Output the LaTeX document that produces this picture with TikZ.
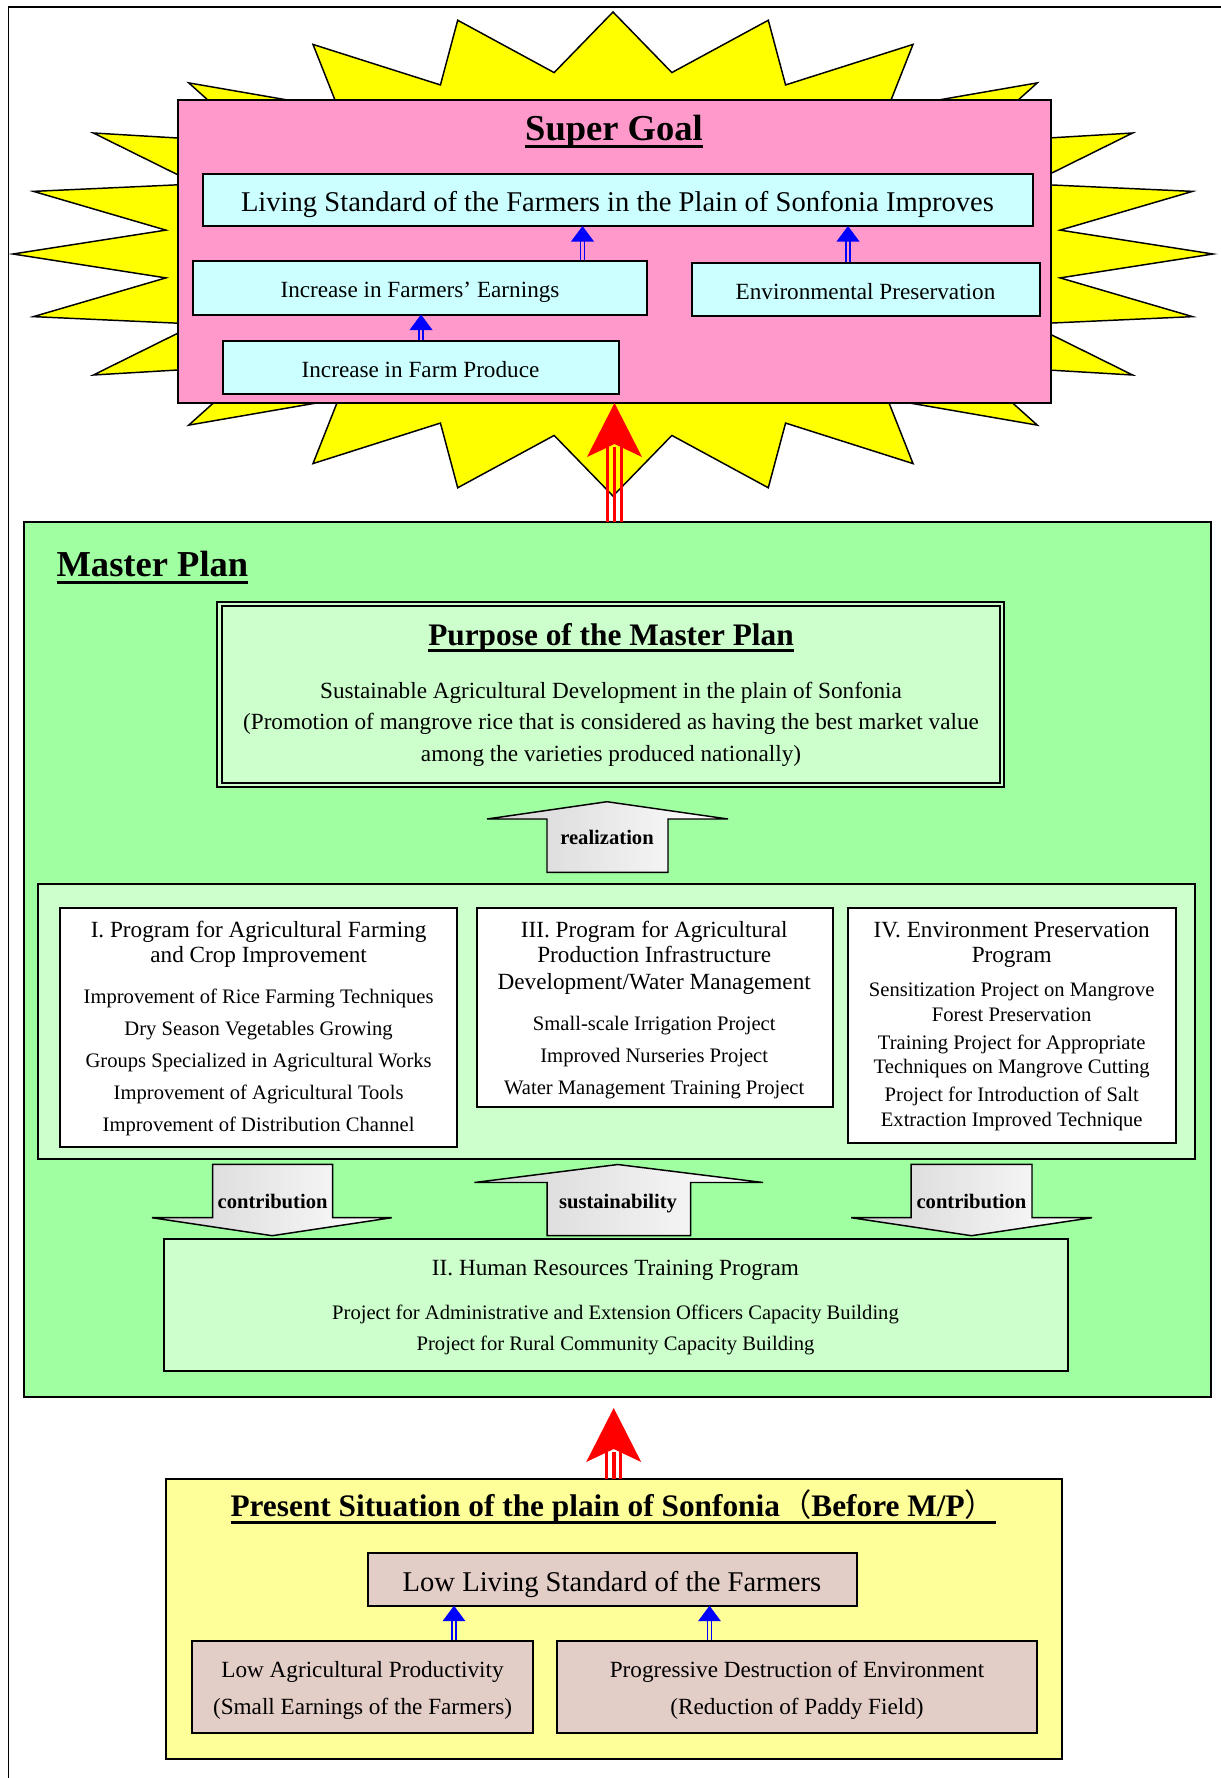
\documentclass[tikz,border=0pt]{standalone}
\usepackage{fontspec}
\setmainfont{Liberation Serif}
\newfontfamily\cjkfont{Noto Sans CJK JP}
\usetikzlibrary{fit,calc}
\definecolor{pinkc}{HTML}{FF99CC}
\definecolor{cyanc}{HTML}{CCFFFF}
\definecolor{starc}{HTML}{FFFF00}
\definecolor{mpgreen}{HTML}{A0FFA0}
\definecolor{palegreen}{HTML}{CCFFCC}
\definecolor{ybox}{HTML}{FFFF99}
\definecolor{rose}{HTML}{E3CDC7}
\definecolor{arrowblue}{HTML}{0000FF}
\definecolor{arrowred}{HTML}{FF0000}
\newcommand{\thickul}[1]{\leavevmode\setbox0\hbox{#1}\rlap{\rule[-5.6pt]{\wd0}{2.4pt}}\box0}
\newcommand{\fnA}{\fontsize{27.4pt}{32pt}\selectfont\bfseries}
\newcommand{\fnB}{\fontsize{23.5pt}{28pt}\selectfont\bfseries}
\newcommand{\fnC}{\fontsize{21.45pt}{26pt}\selectfont}
\newcommand{\fnD}{\fontsize{17.4pt}{21pt}\selectfont}
\newcommand{\fnE}{\fontsize{15.45pt}{19pt}\selectfont}
\newcommand{\dblarrow}[3]{%
  \draw[arrowblue, line width=1.2pt, double=#3, double distance=1.8pt] ($(#1)+(0,-1)$) -- ($(#2)+(0,13)$);
  \fill[arrowblue] (#2) -- ++(-11.5,15.5) -- ++(23,0) -- cycle;}
\newcommand{\redarrow}[2]{%
  \foreach \dx/\w in {-7/2.2,0/2.8,7/2.2} {\draw[arrowred, line width=\w pt] ($(#1)+(\dx,0)$) -- ($(#2)+(\dx,44)$);}
  \fill[arrowred] (#2) -- ++(-27.5,54) -- ++(27.5,-13) -- ++(27.5,13) -- cycle;}
\tikzset{
  every node/.style={inner sep=0pt, outer sep=0pt},
  bx/.style={draw=black, line width=1.5pt},
  ln/.style={anchor=base},
  blk/.style={draw=black, line width=1.1pt, left color=black!17, right color=white},
  starshape/.style={fill=starc, draw=black, line width=1.1pt, line join=miter},
}
\begin{document}
\begin{tikzpicture}[x=0.75pt, y=-0.75pt]
\useasboundingbox (0,0) rectangle (1221,1778);
\fill[white] (0,0) rectangle (1221,1778);
\draw[line width=1.3pt] (8.5,1778) -- (8.5,7) -- (1221,7);

% ---------- Super goal ----------
\draw[starshape] ({613+600*cos(90)}, {254-242*sin(90)})
  \foreach \k in {0,...,23} {
    -- ({613+451*cos(82.5-15*\k)}, {254-183*sin(82.5-15*\k)})
    -- ({613+600*cos(75-15*\k)}, {254-242*sin(75-15*\k)})
  } -- cycle;
\node[bx, fill=pinkc, fit={(178,100) (1051,403)}] (sg) {};
\node[ln, font=\fnA] (sgt) at (614,140.3) {\thickul{Super Goal}};
\node[bx, fill=cyanc, fit={(202.5,173.5) (1032.5,226)}] (ls) {};
\node[ln, font=\fnC] (lst) at (617.5,211.6) {Living Standard of the Farmers in the Plain of Sonfonia Improves};
\node[bx, fill=cyanc, fit={(193,261) (647,314.5)}] (fe) {};
\node[ln, font=\fnD] (fet) at (420,297.7) {Increase in Farmers’ Earnings};
\node[bx, fill=cyanc, fit={(691.5,262.5) (1039.5,315.5)}] (ep) {};
\node[ln, font=\fnD] (ept) at (865.5,299) {Environmental Preservation};
\node[bx, fill=cyanc, fit={(222.5,341) (618.5,393.5)}] (fp) {};
\node[ln, font=\fnD] (fpt) at (420.5,377.2) {Increase in Farm Produce};
\dblarrow{582.5,0 |- fe.north}{582.5,0 |- ls.south}{pinkc}
\dblarrow{848,0 |- ep.north}{848,0 |- ls.south}{pinkc}
\dblarrow{421,0 |- fp.north}{421,0 |- fe.south}{pinkc}

% ---------- Master plan ----------
\node[bx, fill=mpgreen, fit={(24,521.5) (1211,1397)}] (mp) {};
\redarrow{sg.south |- mp.north}{sg.south}
\node[ln, font=\fnA, anchor=base west] (mpt) at (56.5,576.7) {\thickul{Master Plan}};
\node[draw=black, line width=1.6pt, double=palegreen, double distance=1.6pt, fill=palegreen, fit={(219.5,604) (1001.7,784.7)}] (pp) {};
\node[ln, font=\fnB] (ppt) at (611,645) {\thickul{Purpose of the Master Plan}};
\node[ln, font=\fnD] (pp1) at (611,698) {Sustainable Agricultural Development in the plain of Sonfonia};
\node[ln, font=\fnD] (pp2) at (611,729.8) {(Promotion of mangrove rice that is considered as having the best market value};
\node[ln, font=\fnD] (pp3) at (611,761.6) {among the varieties produced nationally)};

\filldraw[blk] (607,801.7) -- (728,819) -- (668,819) -- (668,872.3) -- (547,872.3) -- (547,819) -- (487,819) -- cycle;
\node[ln, font=\fnE\bfseries] (real) at (607,844) {realization};

\node[bx, fill=palegreen, fit={(37.5,884.3) (1194.5,1159)}] (pc) {};
\node[bx, fill=white, fit={(60,908.3) (457.2,1147.3)}] (p1) {};
\node[bx, fill=white, fit={(476.6,908.3) (833.3,1107.3)}] (p3) {};
\node[bx, fill=white, fit={(848.1,908.3) (1176,1143.3)}] (p4) {};

\node[ln, font=\fnD] (p1a) at (258.6,937) {I. Program for Agricultural Farming};
\node[ln, font=\fnD] (p1b) at (258.6,962.7) {and Crop Improvement};
\node[ln, font=\fnE] (p1c) at (258.6,1003.5) {Improvement of Rice Farming Techniques};
\node[ln, font=\fnE] (p1d) at (258.6,1035.8) {Dry Season Vegetables Growing};
\node[ln, font=\fnE] (p1e) at (258.6,1067.8) {Groups Specialized in Agricultural Works};
\node[ln, font=\fnE] (p1f) at (258.6,1099.1) {Improvement of Agricultural Tools};
\node[ln, font=\fnE] (p1g) at (258.6,1131.1) {Improvement of Distribution Channel};

\node[ln, font=\fnD] (p3a) at (654.2,937) {III. Program for Agricultural};
\node[ln, font=\fnD] (p3b) at (654.2,962.7) {Production Infrastructure};
\node[ln, font=\fnD] (p3c) at (654.2,989.4) {Development/Water Management};
\node[ln, font=\fnE] (p3d) at (654.2,1030.1) {Small-scale Irrigation Project};
\node[ln, font=\fnE] (p3e) at (654.2,1062.5) {Improved Nurseries Project};
\node[ln, font=\fnE] (p3f) at (654.2,1094.5) {Water Management Training Project};

\node[ln, font=\fnD] (p4a) at (1011.7,937) {IV. Environment Preservation};
\node[ln, font=\fnD] (p4b) at (1011.7,962.7) {Program};
\node[ln, font=\fnE] (p4c) at (1011.7,996.8) {Sensitization Project on Mangrove};
\node[ln, font=\fnE] (p4d) at (1011.7,1021.1) {Forest Preservation};
\node[ln, font=\fnE] (p4e) at (1011.7,1049.5) {Training Project for Appropriate};
\node[ln, font=\fnE] (p4f) at (1011.7,1073.5) {Techniques on Mangrove Cutting};
\node[ln, font=\fnE] (p4g) at (1011.7,1101.8) {Project for Introduction of Salt};
\node[ln, font=\fnE] (p4h) at (1011.7,1126.1) {Extraction Improved Technique};

\filldraw[blk] (212.6,1164.3) -- (332.6,1164.3) -- (332.6,1217.7) -- (391.7,1217.7) -- (272.2,1235.7) -- (151.9,1217.7) -- (212.6,1217.7) -- cycle;
\node[ln, font=\fnE\bfseries] (con1) at (272.6,1208) {contribution};
\filldraw[blk] (617.8,1164.5) -- (763,1182.5) -- (690.6,1182.5) -- (690.6,1235.5) -- (547.2,1235.5) -- (547.2,1182.5) -- (474.5,1182.5) -- cycle;
\node[ln, font=\fnE\bfseries] (sus) at (618,1208) {sustainability};
\filldraw[blk] (911.2,1164.3) -- (1032,1164.3) -- (1032,1217.7) -- (1092,1217.7) -- (971.5,1235.7) -- (851.2,1217.7) -- (911.2,1217.7) -- cycle;
\node[ln, font=\fnE\bfseries] (con2) at (971.5,1208) {contribution};

\node[bx, fill=palegreen, fit={(164,1239.3) (1067.5,1371)}] (hr) {};
\node[ln, font=\fnD] (hra) at (615.5,1275.4) {II. Human Resources Training Program};
\node[ln, font=\fnE] (hrb) at (615.5,1319.1) {Project for Administrative and Extension Officers Capacity Building};
\node[ln, font=\fnE] (hrc) at (615.5,1350.8) {Project for Rural Community Capacity Building};

% ---------- Present situation ----------
\node[bx, fill=ybox, fit={(165.9,1479) (1061.5,1759)}] (ps) {};
\coordinate (r2tip) at (ps.north |- 0,1408);
\redarrow{ps.north}{r2tip}
\node[ln, font=\fnB, anchor=base west] (pst) at (230.5,1516.7) {\thickul{Present Situation of the plain of Sonfonia{\cjkfont\mdseries （}Before M/P{\cjkfont\mdseries ）}}};
\node[bx, fill=rose, fit={(367.6,1552.7) (856.7,1605.7)}] (ll) {};
\node[ln, font=\fnC] (llt) at (612,1591.1) {Low Living Standard of the Farmers};
\node[bx, fill=rose, fit={(192.4,1640.7) (532.7,1732.7)}] (la) {};
\node[ln, font=\fnD] (laa) at (362.5,1677.7) {Low Agricultural Productivity};
\node[ln, font=\fnD] (lab) at (362.5,1714.4) {(Small Earnings of the Farmers)};
\node[bx, fill=rose, fit={(556.9,1640.7) (1037.4,1733.3)}] (pd) {};
\node[ln, font=\fnD] (pda) at (797,1677.7) {Progressive Destruction of Environment};
\node[ln, font=\fnD] (pdb) at (797,1714.4) {(Reduction of Paddy Field)};
\dblarrow{454,0 |- la.north}{454,0 |- ll.south}{ybox}
\dblarrow{709.5,0 |- pd.north}{709.5,0 |- ll.south}{ybox}
\end{tikzpicture}
\end{document}
